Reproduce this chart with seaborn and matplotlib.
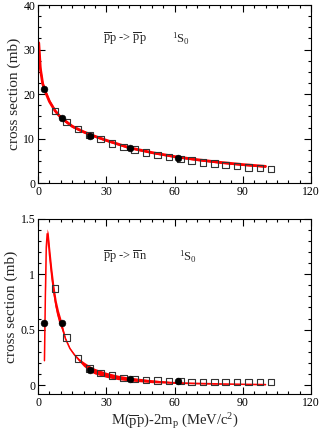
import numpy as np
import pandas as pd
import matplotlib
matplotlib.use('Agg')
import matplotlib.pyplot as plt
from matplotlib.ticker import MultipleLocator
import seaborn as sns

# ---- data ----
# top panel: pbar p -> pbar p, 1S0
pp_circ_x = [2.8, 10.3, 23.0, 40.3, 61.7]
pp_circ_y = [21.2, 14.7, 10.7, 7.9, 5.7]
pp_sq_x = [7.5, 12.5, 17.5, 22.5, 27.5, 32.5, 37.5, 42.5, 47.5, 52.5,
           57.5, 62.5, 67.5, 72.5, 77.5, 82.5, 87.5, 92.5, 97.5, 102.5]
pp_sq_y = [16.2, 13.8, 12.2, 10.8, 9.9, 8.9, 8.2, 7.6, 6.9, 6.4,
           5.9, 5.5, 5.1, 4.7, 4.4, 4.1, 3.9, 3.6, 3.4, 3.2]
pp_curve_x = [0.3, 1, 2, 3, 5, 7.5, 10, 15, 20, 25, 30, 40, 50, 60, 70, 80, 90, 100]
pp_curve_lo = [30.5, 25.0, 21.8, 20.3, 17.9, 15.9, 14.4, 12.5, 11.3, 10.3, 9.4, 7.8, 6.7, 5.8, 5.1, 4.5, 4.0, 3.6]
pp_curve_hi = [32.5, 26.5, 23.0, 21.3, 18.8, 16.6, 15.1, 13.1, 11.8, 10.8, 9.9, 8.2, 7.1, 6.2, 5.5, 4.9, 4.4, 4.0]

# bottom panel: pbar p -> nbar n, 1S0
nn_circ_x = [2.8, 10.3, 23.0, 40.3, 61.7]
nn_circ_y = [0.56, 0.56, 0.14, 0.055, 0.035]
nn_sq_x = pp_sq_x
nn_sq_y = [0.87, 0.43, 0.24, 0.15, 0.11, 0.085, 0.065, 0.055, 0.045, 0.04,
           0.035, 0.035, 0.03, 0.03, 0.03, 0.03, 0.03, 0.03, 0.03, 0.03]
nn_curve_x = [2.8, 3.2, 3.6, 4.0, 4.5, 5, 6, 7, 8, 9, 10, 12, 14, 16, 18, 20,
              23, 25, 30, 35, 40, 50, 60, 70, 80, 90, 100]
nn_curve_lo = [0.21, 0.78, 1.20, 1.32, 1.24, 1.10, 0.91, 0.76, 0.65, 0.57, 0.52, 0.41, 0.325, 0.265, 0.215, 0.17,
               0.12, 0.10, 0.07, 0.05, 0.038, 0.022, 0.015, 0.011, 0.008, 0.005, 0.003]
nn_curve_hi = [0.23, 0.82, 1.29, 1.41, 1.37, 1.26, 1.06, 0.89, 0.76, 0.67, 0.60, 0.43, 0.335, 0.28, 0.24, 0.21,
               0.17, 0.15, 0.115, 0.09, 0.072, 0.048, 0.028, 0.02, 0.014, 0.01, 0.007]

sns.set_style('ticks')
plt.rcParams['font.family'] = ['Liberation Serif', 'DejaVu Serif']
plt.rcParams['mathtext.fontset'] = 'custom'
plt.rcParams['mathtext.rm'] = 'Liberation Serif'
plt.rcParams['mathtext.it'] = 'Liberation Serif:italic'

fig = plt.figure(figsize=(3.2, 4.38), dpi=100)
ax1 = fig.add_axes([0.119, 0.5815, 0.853, 0.407])
ax2 = fig.add_axes([0.119, 0.1005, 0.853, 0.400])

red = '#ff0000'


def draw(ax, cx, lo, hi, sqx, sqy, ccx, ccy, lw):
    mid = [(a + b) / 2 for a, b in zip(lo, hi)]
    ax.fill_between(cx, lo, hi, color=red, lw=0)
    sns.lineplot(x=cx, y=mid, ax=ax, color=red, lw=lw, sort=False)
    sns.scatterplot(x=sqx, y=sqy, ax=ax, marker='s', s=22, facecolor='none',
                    edgecolor='#333333', linewidth=0.8, zorder=3)
    sns.scatterplot(x=ccx, y=ccy, ax=ax, marker='o', s=24, color='black',
                    edgecolor='black', zorder=4)


draw(ax1, pp_curve_x, pp_curve_lo, pp_curve_hi, pp_sq_x, pp_sq_y,
     pp_circ_x, pp_circ_y, 2.0)
draw(ax2, nn_curve_x, nn_curve_lo, nn_curve_hi, nn_sq_x, nn_sq_y,
     nn_circ_x, nn_circ_y, 1.1)

ax1.set_xlim(0, 120)
ax1.set_ylim(0, 40)
ax1.xaxis.set_major_locator(MultipleLocator(30))
ax1.xaxis.set_minor_locator(MultipleLocator(5))
ax1.yaxis.set_major_locator(MultipleLocator(10))
ax1.yaxis.set_minor_locator(MultipleLocator(2.5))

ax2.set_xlim(0, 120)
ax2.set_ylim(-0.08, 1.5)
ax2.xaxis.set_major_locator(MultipleLocator(30))
ax2.xaxis.set_minor_locator(MultipleLocator(5))
ax2.yaxis.set_major_locator(MultipleLocator(0.5))
ax2.yaxis.set_minor_locator(MultipleLocator(0.1))
ax2.set_yticks([0, 0.5, 1, 1.5])
ax2.set_yticklabels(['0', '0.5', '1', '1.5'])

for ax in (ax1, ax2):
    ax.tick_params(which='both', direction='in', top=True, right=True,
                   labelsize=8.5, colors='black', pad=2)
    ax.tick_params(which='major', length=5, width=0.8)
    ax.tick_params(which='minor', length=2.5, width=0.8)
    for s in ax.spines.values():
        s.set_linewidth(0.8)
        s.set_color('black')
    ax.set_ylabel('cross section (mb)', fontsize=11, labelpad=2)
    ax.set_xlabel('')

ax2.set_xlabel(r'M($\overline{\mathrm{p}}\mathrm{p}$)-2m$_\mathrm{p}$ (MeV/c$^2$)',
               fontsize=10.5, labelpad=2)

ax1.text(28.5, 32.5, r'$\overline{\mathrm{p}}\mathrm{p}$ -> $\overline{\mathrm{p}}\mathrm{p}$',
         fontsize=9, va='center')
ax1.text(59, 32.5, r'$^{1}\mathrm{S}_{0}$', fontsize=9, va='center')
ax2.text(28.5, 1.16, r'$\overline{\mathrm{p}}\mathrm{p}$ -> $\overline{\mathrm{n}}\mathrm{n}$',
         fontsize=9, va='center')
ax2.text(62, 1.16, r'$^{1}\mathrm{S}_{0}$', fontsize=9, va='center')

fig.savefig('out.png', dpi=100)
